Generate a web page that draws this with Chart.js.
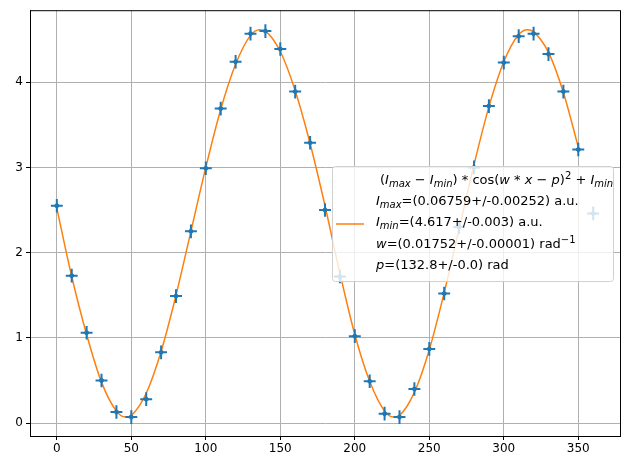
<!DOCTYPE html>
<html>
<head>
<meta charset="utf-8">
<script src="https://cdn.jsdelivr.net/npm/chart.js@4/dist/chart.umd.min.js"></script>
<style>
  html, body { margin: 0; padding: 0; background: #fff; }
  #wrap { width: 630px; height: 470px; }
</style>
</head>
<body>
<div id="wrap"><canvas id="fit-chart"></canvas></div>
<script>
// measured angles and intensities
const angles = [0,10,20,30,40,50,60,70,80,90,100,110,120,130,140,150,160,170,180,190,200,210,220,230,240,250,260,270,280,290,300,310,320,330,340,350,360];
const intensity = [2.55,1.73,1.06,0.50,0.13,0.07,0.28,0.83,1.49,2.25,2.99,3.69,4.24,4.57,4.60,4.39,3.89,3.29,2.50,1.72,1.02,0.49,0.11,0.07,0.40,0.87,1.52,2.30,3.00,3.72,4.23,4.54,4.57,4.33,3.89,3.21,2.46];
const xErr = 4;
const yErr = 0.08;
// fitted curve
const fitX = [0,10,20,30,40,46,50,60,70,80,90,100,110,120,130,136,140,150,160,170,180,190,200,210,220,226,230,240,250,260,270,280,290,300,310,316,320,330,340,350];
const fitY = [2.52,1.72,1.04,0.48,0.14,0.07,0.09,0.35,0.84,1.50,2.25,3.00,3.68,4.21,4.55,4.617,4.60,4.36,3.90,3.28,2.55,1.76,1.04,0.49,0.14,0.07,0.09,0.36,0.86,1.53,2.28,3.03,3.71,4.24,4.56,4.617,4.59,4.35,3.88,3.24];

const blue = '#1f77b4';
const orange = '#ff7f0e';

const errorBars = {
  id: 'errorBars',
  afterDatasetsDraw(chart) {
    const { ctx, scales: { x, y } } = chart;
    ctx.save();
    ctx.strokeStyle = blue;
    ctx.lineWidth = 2;
    angles.forEach((a, i) => {
      const px = x.getPixelForValue(a), py = y.getPixelForValue(intensity[i]);
      ctx.beginPath();
      ctx.moveTo(x.getPixelForValue(a - xErr), py);
      ctx.lineTo(x.getPixelForValue(a + xErr), py);
      ctx.moveTo(px, y.getPixelForValue(intensity[i] - yErr));
      ctx.lineTo(px, y.getPixelForValue(intensity[i] + yErr));
      ctx.stroke();
    });
    ctx.restore();
  }
};

function mathText(ctx, parts, x, y) {
  // parts: [text, style] where style: 'r' roman, 'i' italic, 's' italic subscript, 'p' superscript
  parts.forEach(([t, s]) => {
    let font = '13px "DejaVu Sans"', dy = 0;
    if (s === 'i') font = 'oblique 13px "DejaVu Sans"';
    if (s === 's') { font = 'oblique 10px "DejaVu Sans"'; dy = 3; }
    if (s === 'p') { font = '10px "DejaVu Sans"'; dy = -5; }
    ctx.font = font;
    ctx.fillText(t, x, y + dy);
    x += ctx.measureText(t).width;
  });
}

const legendBox = {
  id: 'legendBox',
  afterDraw(chart) {
    const ctx = chart.ctx;
    ctx.save();
    const bx = 332, by = 166, bw = 281, bh = 115;
    ctx.fillStyle = 'rgba(255,255,255,0.8)';
    ctx.strokeStyle = '#d0d0d0';
    ctx.lineWidth = 1;
    ctx.beginPath();
    ctx.roundRect(bx + 0.5, by + 0.5, bw, bh, 3);
    ctx.fill();
    ctx.stroke();
    ctx.strokeStyle = orange;
    ctx.lineWidth = 1.5;
    ctx.beginPath();
    ctx.moveTo(336, 224);
    ctx.lineTo(364, 224);
    ctx.stroke();
    ctx.fillStyle = '#000';
    ctx.textBaseline = 'middle';
    const lx = 376;
    mathText(ctx, [['(', 'r'], ['I', 'i'], ['max', 's'], [' \u2212 ', 'r'], ['I', 'i'], ['min', 's'], [') * cos(', 'r'], ['w', 'i'], [' * ', 'r'], ['x', 'i'], [' \u2212 ', 'r'], ['p', 'i'], [')', 'r'], ['2', 'p'], [' + ', 'r'], ['I', 'i'], ['min', 's']], 380, 181);
    mathText(ctx, [['I', 'i'], ['max', 's'], ['=(0.06759+/-0.00252) a.u.', 'r']], lx, 202);
    mathText(ctx, [['I', 'i'], ['min', 's'], ['=(4.617+/-0.003) a.u.', 'r']], lx, 223);
    mathText(ctx, [['w', 'i'], ['=(0.01752+/-0.00001) rad', 'r'], ['\u22121', 'p']], lx, 245);
    mathText(ctx, [['p', 'i'], ['=(132.8+/-0.0) rad', 'r']], lx, 266);
    ctx.restore();
  }
};

const frame = {
  id: 'frame',
  afterDraw(chart) {
    const { ctx, chartArea: a } = chart;
    ctx.save();
    ctx.strokeStyle = '#000';
    ctx.lineWidth = 1;
    ctx.strokeRect(a.left + 0.5, a.top + 0.5, a.right - a.left, a.bottom - a.top);
    ctx.restore();
  }
};

new Chart(document.getElementById('fit-chart'), {
  type: 'scatter',
  data: {
    datasets: [{
      label: 'data',
      data: angles.map((a, i) => ({ x: a, y: intensity[i] })),
      backgroundColor: blue,
      borderColor: blue,
      pointRadius: 2
    }, {
      label: 'fit',
      type: 'line',
      data: fitX.map((a, i) => ({ x: a, y: fitY[i] })),
      borderColor: orange,
      borderWidth: 1.5,
      pointRadius: 0,
      cubicInterpolationMode: 'monotone',
      order: 1
    }]
  },
  options: {
    responsive: true,
    maintainAspectRatio: false,
    animation: false,
    layout: { padding: { top: 10, right: 10 } },
    plugins: { legend: { display: false }, tooltip: { enabled: false } },
    scales: {
      x: {
        min: -18, max: 378,
        afterFit: s => { s.height = 34; },
        ticks: { color: '#000', font: { family: 'DejaVu Sans', size: 12 }, padding: 2 },
        afterBuildTicks: s => { s.ticks = [0,50,100,150,200,250,300,350].map(v => ({ value: v })); },
        grid: { color: '#b0b0b0', tickColor: '#000', tickLength: 4 },
        border: { color: '#000' }
      },
      y: {
        min: -0.152, max: 4.845,
        afterFit: s => { s.width = 30; },
        afterBuildTicks: s => { s.ticks = [0,1,2,3,4].map(v => ({ value: v })); },
        ticks: { color: '#000', font: { family: 'DejaVu Sans', size: 12 }, padding: 3 },
        grid: { color: '#b0b0b0', tickColor: '#000', tickLength: 4 },
        border: { color: '#000' }
      }
    }
  },
  plugins: [errorBars, frame, legendBox]
});
</script>
</body>
</html>
